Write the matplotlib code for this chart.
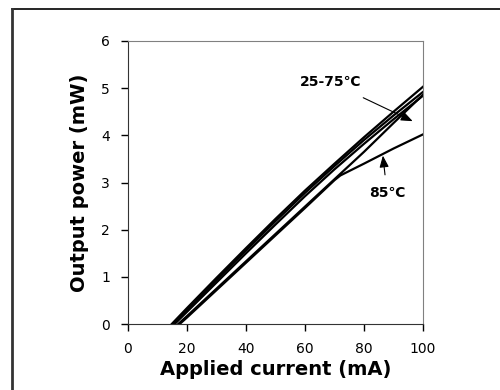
import matplotlib
matplotlib.use("Agg")
import matplotlib.pyplot as plt
from matplotlib.lines import Line2D

# applied current (mA) and output power (mW) for each temperature
i_25 = [14.8, 20, 30, 40, 50, 60, 70, 80, 90, 100]
p_25 = [0, 0.34, 0.98, 1.61, 2.23, 2.83, 3.40, 3.96, 4.50, 5.03]

i_40 = [15.2, 20, 30, 40, 50, 60, 70, 80, 90, 100]
p_40 = [0, 0.30, 0.93, 1.56, 2.18, 2.78, 3.35, 3.90, 4.42, 4.92]

i_55 = [15.8, 20, 30, 40, 50, 60, 70, 80, 90, 100]
p_55 = [0, 0.26, 0.88, 1.50, 2.11, 2.71, 3.28, 3.82, 4.34, 4.84]

i_75 = [17, 20, 30, 40, 50, 60, 70, 80, 90, 100]
p_75 = [0, 0.17, 0.75, 1.33, 1.91, 2.49, 3.07, 3.65, 4.26, 4.86]

i_85 = [17.5, 20, 30, 40, 50, 60, 70, 72, 80, 90, 100]
p_85 = [0, 0.14, 0.72, 1.30, 1.88, 2.46, 3.05, 3.15, 3.40, 3.72, 4.02]

x_ticks = [0, 20, 40, 60, 80, 100]
y_ticks = [0, 1, 2, 3, 4, 5, 6]

fig = plt.figure(figsize=(5, 3.9), dpi=100)
ax = fig.add_axes([0.256, 0.169, 0.59, 0.726])

# outer frame (only top and left show in the crop)
fig.add_artist(Line2D([0.024, 1.0], [0.977, 0.977], color="black", lw=1.2))
fig.add_artist(Line2D([0.024, 0.024], [0.0, 0.977], color="#333333", lw=2))

for xs, ys in [(i_25, p_25), (i_40, p_40), (i_55, p_55), (i_75, p_75), (i_85, p_85)]:
    ax.plot(xs, ys, color="black", lw=1.6)

ax.set_xlim(0, 100)
ax.set_ylim(0, 6)
ax.set_xticks(x_ticks)
ax.set_yticks(y_ticks)
ax.tick_params(direction="out", length=5, width=1, labelsize=10, pad=8)

for side in ["left", "bottom"]:
    ax.spines[side].set_color("#333333")
for side in ["top", "right"]:
    ax.spines[side].set_color("#808080")

ax.set_xlabel("Applied current (mA)", fontsize=14, fontweight="bold", labelpad=3)
ax.set_ylabel("Output power (mW)", fontsize=14, fontweight="bold", labelpad=9)

arrow = dict(arrowstyle="-|>,head_length=0.5,head_width=0.2",
             color="black", lw=0.8, mutation_scale=14, shrinkB=0)
ax.annotate("25-75℃", xy=(96.5, 4.3), xytext=(68.5, 5.13),
            fontsize=10, fontweight="bold", ha="center", va="center",
            arrowprops=dict(arrow, shrinkA=10))
ax.annotate("85℃", xy=(86.4, 3.57), xytext=(87.8, 2.78),
            fontsize=10, fontweight="bold", ha="center", va="center",
            arrowprops=dict(arrow, shrinkA=6))

fig.savefig("out.png", dpi=100)
